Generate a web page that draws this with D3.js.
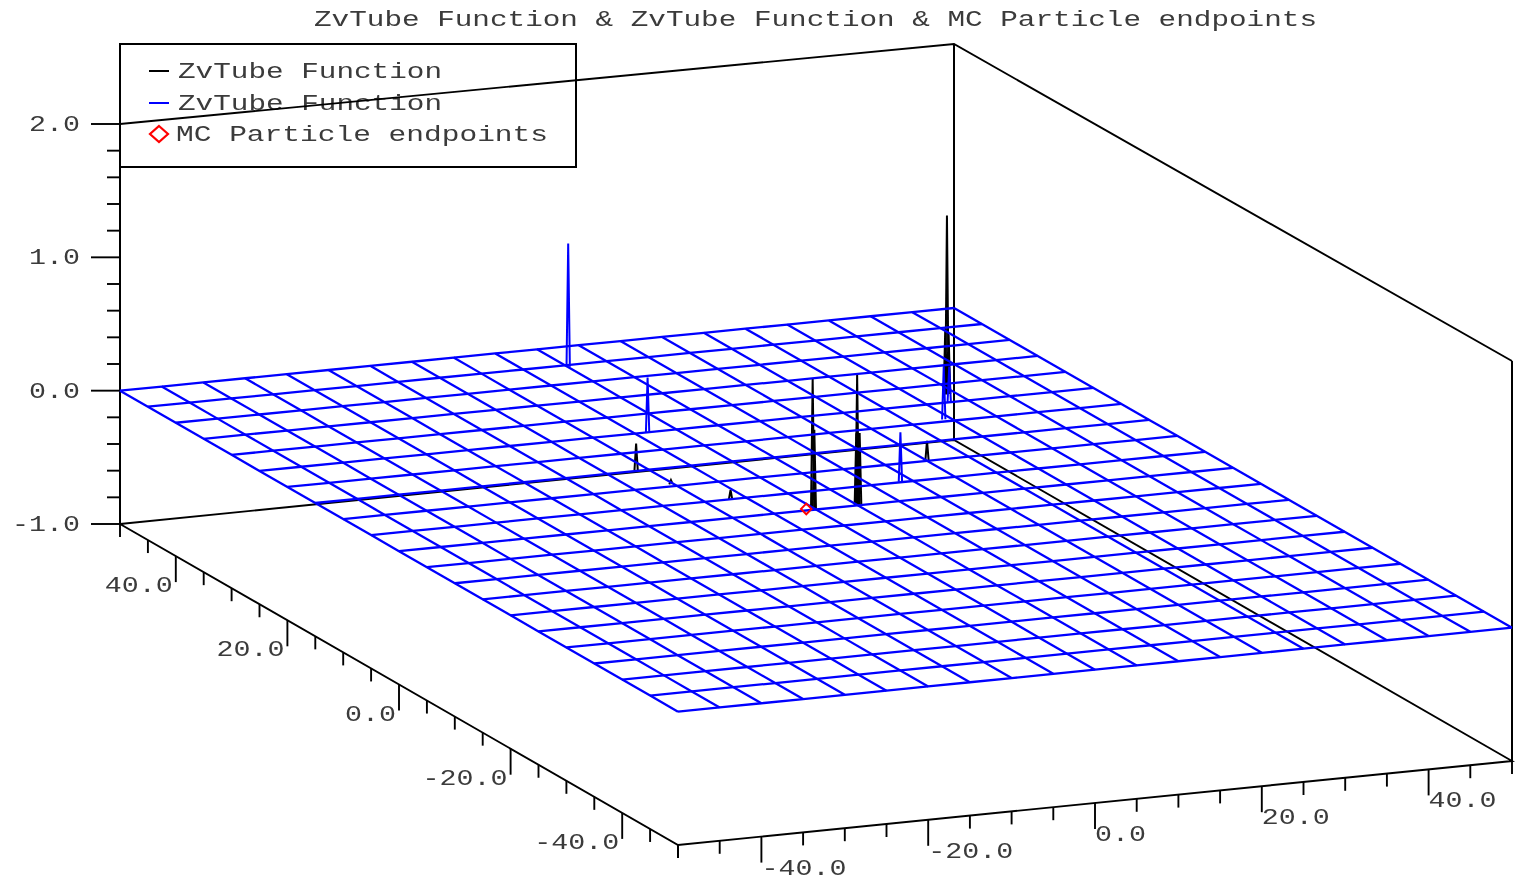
<!DOCTYPE html>
<html>
<head>
<meta charset="utf-8">
<script src="https://d3js.org/d3.v7.min.js"></script>
<style>
  html, body { margin: 0; padding: 0; background: #fff; overflow: hidden; }
  text { font-family: "Liberation Mono", monospace; font-size: 22px; fill: #3a3a3a; }
</style>
</head>
<body>
<div id="viz"></div>
<script>

var titleText = "ZvTube Function & ZvTube Function & MC Particle endpoints";
var legendNames = ["ZvTube Function", "ZvTube Function", "MC Particle endpoints"];

var xTicks = [-40, -20, 0, 20, 40];
var yTicks = [-40, -20, 0, 20, 40];
var zTicks = [-1, 0, 1, 2];
var xMinor = [-50, -45, -35, -30, -25, -15, -10, -5, 5, 10, 15, 25, 30, 35, 45, 50];
var yMinor = [-50, -45, -35, -30, -25, -15, -10, -5, 5, 10, 15, 25, 30, 35, 45, 50];
var zMinor = [-0.8, -0.6, -0.4, -0.2, 0.2, 0.4, 0.6, 0.8, 1.2, 1.4, 1.6, 1.8];

// mesh nodes, one line every 5 units
var gridX = [-50, -45, -40, -35, -30, -25, -20, -15, -10, -5, 0, 5, 10, 15, 20, 25, 30, 35, 40, 45, 50];
var gridY = [-50, -45, -40, -35, -30, -25, -20, -15, -10, -5, 0, 5, 10, 15, 20, 25, 30, 35, 40, 45, 50];

// peaks as x, y, height
var blackPeaks = [
  [-11.4, 15.2, 0.2], [-6.9, 5, 0.07], [-10.3, 10.6, 0.03],
  [-0.4, 0, 0.99], [-0.2, 0, 0.6],
  [5, 0.1, 0.98], [5.1, 0.1, 0.54], [5.3, 0.1, 0.54], [4.9, 0.1, 0.54],
  [20, 10, 0.15],
  [33.9, 27.2, 1.35], [33.7, 27.2, 0.5], [34.1, 27.2, 0.45]
];
var bluePeaks = [
  [0.06, 44.5, 0.93], [-3.4, 25.1, 0.41], [13.6, 5.2, 0.37],
  [29.1, 20.6, 0.4], [32.7, 25, 0.27]
];
var particles = [[-0.9, 0.4, 0]];

var width = 1516, height = 881;

// the oblique view is just three linear scales added up
var xToLeft = d3.scaleLinear().domain([-50, 50]).range([0, 834]);
var xToTop = d3.scaleLinear().domain([-50, 50]).range([0, -84]);
var yToLeft = d3.scaleLinear().domain([50, -50]).range([120, 678]);
var yToTop = d3.scaleLinear().domain([50, -50]).range([524, 845]);
var zToTop = d3.scaleLinear().domain([-1, 2]).range([0, -400]);

// the far corner looks a little shorter in the picture, slight perspective
var backX = d3.scaleLinear().domain([-50, 50]).range([0, 1]);
var backY = d3.scaleLinear().domain([-50, 50]).range([0, 1]);

function project(x, y, z) {
  var shrink = 1 - 0.01 * backX(x) * backY(y);
  return [xToLeft(x) + yToLeft(y), xToTop(x) + yToTop(y) + zToTop(z) * shrink];
}

var line3d = d3.line().x(function(d){ return project(d[0], d[1], d[2])[0]; })
                      .y(function(d){ return project(d[0], d[1], d[2])[1]; });

function label(d) {
  return d.toFixed(1);
}

function tickWidth(d) {
  return label(d).length * 17;
}

var svg = d3.select("#viz").append("svg")
    .attr("width", width)
    .attr("height", height);

svg.append("defs").append("filter")
    .attr("id", "soft")
    .attr("x", 0).attr("y", 0).attr("width", 1).attr("height", 1)
    .append("feGaussianBlur").attr("stdDeviation", 0.5);

var plot = svg.append("g").attr("filter", "url(#soft)");
plot.append("rect").attr("width", width).attr("height", height).attr("fill", "#fff");

function drawLine(points, color, w) {
  plot.append("path")
      .attr("d", line3d(points))
      .attr("fill", "none")
      .attr("stroke", color)
      .attr("stroke-width", w);
}

// legend box sits under the cage lines
var legend = plot.append("g");
legend.append("rect")
    .attr("x", 120).attr("y", 44)
    .attr("width", 456).attr("height", 123)
    .attr("fill", "#fff")
    .attr("stroke", "#000")
    .attr("stroke-width", 2);

var legendRows = [71, 103, 134];
var legendColors = ["#000", "#0000ff"];
legendColors.forEach(function(c, i) {
  legend.append("line")
      .attr("x1", 149).attr("x2", 169)
      .attr("y1", legendRows[i]).attr("y2", legendRows[i])
      .attr("stroke", c).attr("stroke-width", 2);
});
legend.append("path")
    .attr("d", "M159,126L168,134L159,142L150,134Z")
    .attr("fill", "none")
    .attr("stroke", "#ff0000")
    .attr("stroke-width", 2.2);
legend.selectAll("text")
    .data(legendNames)
    .enter().append("text")
    .attr("x", function(d, i){ return i == 2 ? 176 : 178; })
    .attr("y", function(d, i){ return legendRows[i] + 7; })
    .attr("textLength", function(d, i){ return i == 2 ? 372 : 264; })
    .attr("lengthAdjust", "spacingAndGlyphs")
    .text(function(d){ return d; });

// cage
drawLine([[-50, 50, -1], [-50, -50, -1], [50, -50, -1], [50, 50, -1], [-50, 50, -1]], "#000", 1.9);
drawLine([[-50, 50, 2], [50, 50, 2], [50, -50, 2]], "#000", 1.9);
drawLine([[-50, 50, -1], [-50, 50, 2]], "#000", 2);
drawLine([[50, 50, -1], [50, 50, 2]], "#000", 2);
drawLine([[50, -50, -1], [50, -50, 2]], "#000", 2);

// z axis ticks
function tickZ(z, len) {
  var p = project(-50, 50, z);
  plot.append("line")
      .attr("x1", p[0]).attr("x2", p[0] - len)
      .attr("y1", p[1]).attr("y2", p[1])
      .attr("stroke", "#000").attr("stroke-width", 1.9);
}
zMinor.forEach(function(z){ tickZ(z, 13); });
zTicks.forEach(function(z){ tickZ(z, 29); });

function tickDown(p, len) {
  plot.append("line")
      .attr("x1", p[0]).attr("x2", p[0])
      .attr("y1", p[1]).attr("y2", p[1] + len)
      .attr("stroke", "#000").attr("stroke-width", 1.9);
}
xMinor.forEach(function(x){ tickDown(project(x, -50, -1), 13); });
xTicks.forEach(function(x){ tickDown(project(x, -50, -1), 26); });
yMinor.forEach(function(y){ tickDown(project(-50, y, -1), 13); });
yTicks.forEach(function(y){ tickDown(project(-50, y, -1), 26); });

plot.selectAll(".zlabel")
    .data(zTicks)
    .enter().append("text")
    .attr("class", "zlabel")
    .attr("x", function(d){ return 80 - tickWidth(d); })
    .attr("y", function(d){ return project(-50, 50, d)[1] + 7; })
    .attr("textLength", tickWidth)
    .attr("lengthAdjust", "spacingAndGlyphs")
    .text(label);

plot.selectAll(".xlabel")
    .data(xTicks)
    .enter().append("text")
    .attr("class", "xlabel")
    .attr("x", function(d){ return project(d, -50, -1)[0]; })
    .attr("y", function(d){ return project(d, -50, -1)[1] + 38; })
    .attr("textLength", tickWidth)
    .attr("lengthAdjust", "spacingAndGlyphs")
    .text(label);

plot.selectAll(".ylabel")
    .data(yTicks)
    .enter().append("text")
    .attr("class", "ylabel")
    .attr("x", function(d){ return project(-50, d, -1)[0] - tickWidth(d) - 3; })
    .attr("y", function(d){ return project(-50, d, -1)[1] + 36; })
    .attr("textLength", tickWidth)
    .attr("lengthAdjust", "spacingAndGlyphs")
    .text(label);

// narrow peaks, drawn before the mesh so the mesh crosses over them
function drawPeak(p, color) {
  drawLine([[p[0] - 0.2, p[1], 0], [p[0], p[1], p[2]], [p[0] + 0.2, p[1], 0]], color, 2);
}
blackPeaks.forEach(function(p){ drawPeak(p, "#000"); });
bluePeaks.forEach(function(p){ drawPeak(p, "#0000ff"); });

gridX.forEach(function(x) {
  drawLine(gridY.map(function(y){ return [x, y, 0]; }), "#0000ff", 2.3);
});
gridY.forEach(function(y) {
  drawLine(gridX.map(function(x){ return [x, y, 0]; }), "#0000ff", 2.3);
});

// particle endpoints
plot.selectAll(".particle")
    .data(particles)
    .enter().append("path")
    .attr("class", "particle")
    .attr("transform", function(d){ return "translate(" + project(d[0], d[1], d[2]) + ")"; })
    .attr("d", d3.symbol().type(d3.symbolDiamond2).size(72))
    .attr("fill", "none")
    .attr("stroke", "#ff0000")
    .attr("stroke-width", 1.9);

plot.append("text")
    .attr("x", 314).attr("y", 26)
    .attr("textLength", 1003)
    .attr("lengthAdjust", "spacingAndGlyphs")
    .text(titleText);

</script>
</body>
</html>
